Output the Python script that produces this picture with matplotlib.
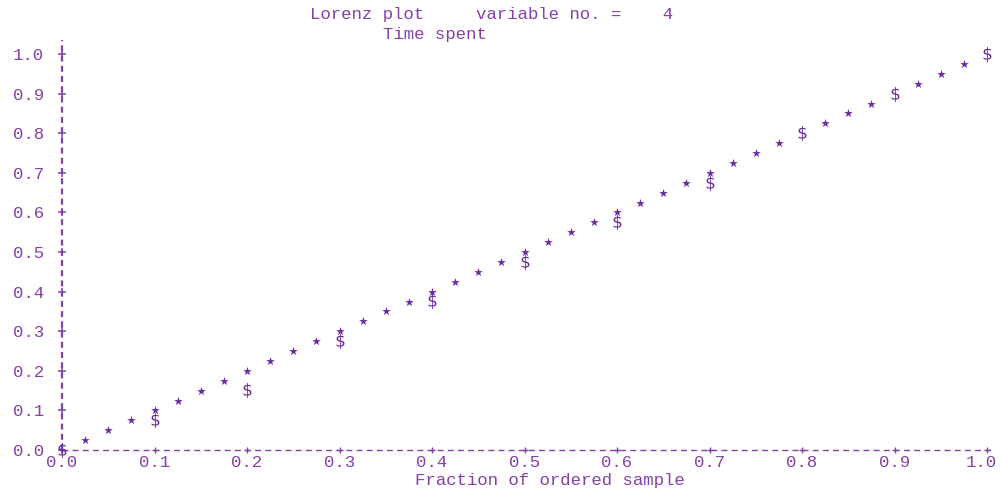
import matplotlib
matplotlib.use("Agg")
import matplotlib.pyplot as plt
import matplotlib.transforms as mtransforms

# equality line points (drawn as stars); the ones hidden under '$' are left out
equal_x = [0.025, 0.05, 0.075, 0.1, 0.125, 0.15, 0.175, 0.2, 0.225, 0.25,
           0.275, 0.3, 0.325, 0.35, 0.375, 0.4, 0.425, 0.45, 0.475, 0.5,
           0.525, 0.55, 0.575, 0.6, 0.625, 0.65, 0.675, 0.7, 0.725, 0.75,
           0.775, 0.825, 0.85, 0.875, 0.925, 0.95, 0.975]
equal_y = equal_x

# Lorenz curve points (drawn as '$')
lorenz_x = [0.0, 0.1, 0.2, 0.3, 0.4, 0.5, 0.6, 0.7, 0.8, 0.9, 1.0]
lorenz_y = [0.0, 0.076, 0.152, 0.275, 0.376, 0.475, 0.576, 0.674, 0.80, 0.90, 1.0]

ticks = [0.0, 0.1, 0.2, 0.3, 0.4, 0.5, 0.6, 0.7, 0.8, 0.9, 1.0]
tick_labels = ['0.0', '0.1', '0.2', '0.3', '0.4', '0.5', '0.6', '0.7', '0.8', '0.9', '1.0']

txt_col = '#8442a6'
mark_col = '#6a2c9e'
mono = 'Liberation Mono'
fs = 12.5

fig = plt.figure(figsize=(10, 4.88), dpi=100)
ax = fig.add_axes([0.062, 38 / 488, 0.925, 396 / 488])
ax.set_xlim(0, 1)
ax.set_ylim(0, 1)
for s in ax.spines.values():
    s.set_visible(False)

# dashed axes with '+' ticks
ax.plot([0, 1.004], [0, 0], color=txt_col, lw=1.0, dashes=(4.3, 3.0), clip_on=False)
ax.plot([0, 0], [0, 1.035], color=txt_col, lw=1.6, dashes=(2.7, 1.9), clip_on=False)
ax.plot(ticks, [0] * len(ticks), '+', color=txt_col, ms=5, mew=1, clip_on=False)
ax.plot([0] * len(ticks), ticks, '+', color=txt_col, ms=6, mew=1.1, clip_on=False)

ax.scatter(equal_x, equal_y, marker='*', s=42, color=mark_col, lw=0, clip_on=False, zorder=3)
ax.scatter(lorenz_x, lorenz_y, marker=r'$\$$', s=120, color=mark_col, lw=0, clip_on=False, zorder=4)

ax.set_xticks(ticks)
ax.set_xticklabels(tick_labels)
ax.set_yticks(ticks)
ax.set_yticklabels(tick_labels)
ax.tick_params(length=0, colors=txt_col, labelsize=fs)
ax.tick_params(axis='x', pad=3.5)
ax.tick_params(axis='y', pad=13)
for lab in ax.get_xticklabels() + ax.get_yticklabels():
    lab.set_fontfamily(mono)

# last x label sits a little left so it stays inside the figure
last = ax.get_xticklabels()[-1]
last.set_transform(last.get_transform() +
                   mtransforms.ScaledTranslation(-6 / 100, 0, fig.dpi_scale_trans))

fig.text(0.492, 1 - 15 / 488, 'Lorenz plot     variable no. =    4', ha='center', va='center',
         color=txt_col, fontsize=fs, fontfamily=mono)
fig.text(0.435, 1 - 35 / 488, 'Time spent', ha='center', va='center',
         color=txt_col, fontsize=fs, fontfamily=mono)
fig.text(0.5495, 1 - 481 / 488, 'Fraction of ordered sample', ha='center', va='center',
         color=txt_col, fontsize=fs, fontfamily=mono)

fig.savefig('out.png', dpi=100)
